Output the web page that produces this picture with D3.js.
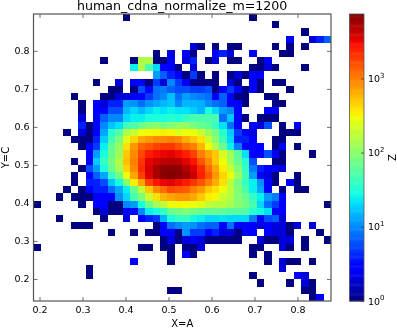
<!DOCTYPE html>
<html>
<head>
<meta charset="utf-8">
<script src="https://cdn.jsdelivr.net/npm/d3@7"></script>
<style>
html, body { margin: 0; background: #fff; }
svg { display: block; filter: blur(0.3px); }
text { font-family: "DejaVu Sans", sans-serif; fill: #000; }
</style>
</head>
<body>
<div id="chart"></div>
<script>
const width = 397, height = 328;

// data range of the histogram
const xExtent = [0.186, 0.878];
const yExtent = [0.142, 0.897];
const binCount = 40;
const zMax = 7380;

const xTicks = [0.2, 0.3, 0.4, 0.5, 0.6, 0.7, 0.8];
const yTicks = [0.2, 0.3, 0.4, 0.5, 0.6, 0.7, 0.8];
const zTicks = [1, 10, 100, 1000];

const title = "human_cdna_normalize_m=1200";

// counts per row from top to bottom, as column index : count
const zRows = [
  {12:1, 29:1},
  {32:1},
  {36:1},
  {34:3, 37:2, 38:4, 39:7},
  {21:2, 22:1, 24:1, 26:1, 27:1, 32:1, 34:1, 36:1},
  {16:1, 18:2, 20:3, 21:1, 24:3, 25:4, 26:2, 29:3, 33:1, 34:1},
  {9:1, 13:1, 14:150, 15:150, 16:1, 17:1, 18:3, 20:2, 21:4, 23:1, 24:2, 26:1, 27:1, 30:1, 31:3},
  {13:25, 14:150, 15:50, 16:20, 17:3, 18:3, 19:1, 21:2, 29:1, 30:1, 31:2, 32:1, 36:1},
  {16:12, 17:7, 18:4, 19:3, 20:1, 21:5, 22:1, 24:1, 26:1, 27:2, 28:1, 29:3, 30:3},
  {8:1, 11:2, 13:3, 14:3, 15:1, 16:5, 17:2, 18:10, 19:5, 20:3, 21:1, 22:1, 23:1, 24:1, 26:2, 27:1, 29:3, 30:1, 32:1, 33:1},
  {10:1, 11:1, 13:1, 14:6, 15:3, 16:8, 17:9, 18:7, 19:6, 20:6, 21:5, 22:5, 23:6, 24:1, 25:3, 26:5, 27:3, 28:1, 29:3, 30:1, 34:1},
  {5:1, 9:1, 10:1, 11:2, 12:2, 13:3, 14:3, 15:5, 16:8, 17:10, 18:16, 19:8, 20:12, 21:10, 22:9, 23:8, 24:3, 25:7, 26:3, 27:1, 28:1, 31:1, 32:1},
  {6:1, 8:3, 9:2, 10:4, 11:4, 12:12, 13:11, 14:8, 15:11, 16:13, 17:15, 18:17, 19:10, 20:15, 21:15, 22:14, 23:10, 24:8, 25:7, 26:3, 27:3, 28:1, 32:1, 33:1},
  {6:1, 8:3, 9:3, 10:6, 11:6, 12:15, 13:20, 14:15, 15:20, 16:25, 17:22, 18:25, 19:22, 20:22, 21:18, 22:15, 23:30, 24:20, 25:12, 26:10, 27:3, 31:3, 32:3},
  {6:2, 8:3, 9:7, 10:10, 11:10, 12:20, 13:25, 14:25, 15:30, 16:30, 17:30, 18:35, 19:30, 20:40, 21:50, 22:50, 23:50, 24:50, 25:8, 26:17, 27:3, 28:1, 30:1, 31:1, 32:1},
  {6:4, 7:1, 8:3, 9:10, 10:17, 11:22, 12:45, 13:50, 14:70, 15:90, 16:100, 17:80, 18:90, 19:110, 20:110, 21:80, 22:70, 23:60, 24:40, 25:22, 26:8, 27:3, 29:3, 30:2, 31:6, 33:1, 35:3},
  {4:1, 6:2, 7:1, 8:3, 9:13, 10:35, 11:55, 12:150, 13:200, 14:300, 15:320, 16:330, 17:350, 18:330, 19:250, 20:300, 21:300, 22:200, 23:120, 24:80, 25:35, 26:18, 27:5, 28:3, 29:2, 33:1, 34:1, 35:1},
  {5:1, 6:1, 7:1, 8:4, 9:18, 10:45, 11:85, 12:250, 13:450, 14:700, 15:800, 16:900, 17:900, 18:1000, 19:900, 20:650, 21:500, 22:400, 23:200, 24:100, 25:45, 26:20, 27:4, 28:4, 29:3, 32:1, 33:1},
  {6:1, 7:3, 8:5, 9:25, 10:65, 11:110, 12:400, 13:800, 14:1300, 15:1500, 16:1800, 17:2000, 18:2000, 19:1600, 20:1200, 21:1000, 22:600, 23:300, 24:150, 25:70, 26:25, 27:9, 28:3, 29:3, 30:3, 32:1, 33:3, 35:1},
  {7:3, 8:12, 9:30, 10:70, 11:120, 12:500, 13:900, 14:1700, 15:2600, 16:3000, 17:3200, 18:3400, 19:3000, 20:2500, 21:1800, 22:1000, 23:700, 24:500, 25:220, 26:130, 27:60, 28:22, 29:3, 30:3, 31:6, 32:3, 33:1, 37:1},
  {5:1, 7:3, 8:18, 9:40, 10:80, 11:150, 12:550, 13:1000, 14:2000, 15:3300, 16:4000, 17:4600, 18:4800, 19:4500, 20:3400, 21:2800, 22:1500, 23:900, 24:500, 25:300, 26:130, 27:70, 28:35, 29:6, 32:1, 33:1},
  {6:1, 7:6, 8:12, 9:30, 10:70, 11:130, 12:450, 13:900, 14:2200, 15:3800, 16:5500, 17:6500, 18:6800, 19:6500, 20:5000, 21:3500, 22:2300, 23:1200, 24:700, 25:350, 26:200, 27:90, 28:40, 29:9, 30:4, 31:3, 32:3, 33:2},
  {5:1, 7:3, 8:7, 9:13, 10:40, 11:80, 12:300, 13:700, 14:1800, 15:3500, 16:5500, 17:6800, 18:7300, 19:6800, 20:5800, 21:4200, 22:2500, 23:1500, 24:800, 25:450, 26:300, 27:120, 28:45, 29:12, 30:3, 31:2, 32:1, 35:1},
  {5:1, 7:4, 8:4, 9:6, 10:17, 11:28, 12:100, 13:350, 14:700, 15:1800, 16:2700, 17:3200, 18:3500, 19:3000, 20:2600, 21:2000, 22:1500, 23:1000, 24:650, 25:400, 26:170, 27:80, 28:40, 29:25, 30:11, 31:3, 32:1, 34:3, 35:1},
  {4:1, 6:1, 7:3, 8:4, 9:4, 10:8, 11:13, 12:25, 13:70, 14:180, 15:500, 16:900, 17:1200, 18:1700, 19:1500, 20:1400, 21:1000, 22:800, 23:500, 24:400, 25:300, 26:170, 27:90, 28:50, 29:25, 30:13, 31:3, 33:1, 35:1, 36:1},
  {3:1, 5:1, 6:1, 7:1, 8:3, 9:3, 10:3, 11:11, 12:20, 13:50, 14:90, 15:200, 16:400, 17:600, 18:700, 19:800, 20:800, 21:700, 22:500, 23:350, 24:320, 25:200, 26:160, 27:90, 28:70, 29:40, 30:25, 31:12, 32:9, 33:3},
  {0:1, 6:1, 8:3, 9:3, 10:1, 11:1, 12:10, 13:12, 14:30, 15:70, 16:130, 17:170, 18:280, 19:320, 20:300, 21:280, 22:250, 23:180, 24:160, 25:160, 26:130, 27:100, 28:80, 29:50, 30:20, 31:8, 32:5, 33:3, 39:1},
  {8:1, 9:2, 10:1, 11:1, 12:3, 13:3, 14:10, 15:25, 16:30, 17:40, 18:70, 19:80, 20:90, 21:80, 22:70, 23:65, 24:70, 25:65, 26:60, 27:60, 28:55, 29:35, 30:28, 31:22, 32:3, 33:3},
  {3:1, 9:1, 12:2, 14:3, 15:4, 16:5, 17:15, 18:30, 19:40, 20:40, 21:27, 22:25, 23:20, 24:20, 25:22, 26:20, 27:20, 28:20, 29:9, 30:3, 31:6, 32:7, 33:2},
  {5:1, 6:1, 7:1, 16:1, 17:3, 18:8, 19:10, 20:12, 21:11, 22:8, 23:7, 24:7, 25:3, 26:8, 27:3, 28:3, 29:3, 30:2, 31:3, 32:2, 33:2, 34:1, 35:2, 37:2},
  {10:1, 13:1, 15:1, 16:1, 17:3, 18:3, 19:1, 20:11, 21:5, 22:5, 23:3, 24:4, 25:2, 26:2, 27:1, 28:3, 29:3, 31:3, 32:2, 33:2, 34:1, 38:1},
  {17:1, 18:2, 19:1, 20:2, 21:3, 22:2, 23:1, 24:1, 25:1, 26:1, 27:1, 30:2, 31:1, 32:1, 33:2, 34:2, 36:1, 39:1},
  {0:1, 14:1, 15:1, 17:1, 18:1, 20:1, 21:1, 22:2, 29:1, 30:1, 33:2, 34:1, 36:1},
  {18:1, 20:3, 21:1, 29:1, 31:1},
  {13:3, 18:1, 31:1, 33:2, 34:1, 35:1, 37:1},
  {7:1, 33:2},
  {7:1, 29:1, 35:3, 36:2},
  {30:1, 34:1, 36:2, 37:1},
  {18:1, 19:1, 36:1, 37:1},
  {37:1, 38:3}
];

const svg = d3.select("#chart").append("svg")
    .attr("width", width)
    .attr("height", height);

const plot = { left: 33.5, right: 331, top: 14, bottom: 301 };
const bar = { left: 349.5, right: 364 };

const x = d3.scaleLinear().domain(xExtent).range([plot.left, plot.right]);
const y = d3.scaleLinear().domain(yExtent).range([plot.bottom, plot.top]);
const zBar = d3.scaleLog().domain([1, zMax]).range([plot.bottom, plot.top]);
const zNorm = d3.scaleLog().domain([1, zMax]).range([0, 1]);

// jet colormap
const red = d3.scaleLinear().domain([0, 0.35, 0.66, 0.89, 1]).range([0, 0, 255, 255, 128]);
const green = d3.scaleLinear().domain([0, 0.125, 0.375, 0.64, 0.91, 1]).range([0, 0, 255, 255, 0, 0]);
const blue = d3.scaleLinear().domain([0, 0.11, 0.34, 0.65, 1]).range([128, 255, 255, 0, 0]);
const jet = t => d3.rgb(red(t), green(t), blue(t)).toString();

const xStep = (xExtent[1] - xExtent[0]) / binCount;
const yStep = (yExtent[1] - yExtent[0]) / binCount;

const cells = [];
zRows.forEach((row, j) => {
  Object.keys(row).forEach(i => {
    cells.push({ col: +i, row: j, z: row[i] });
  });
});

svg.append("g").selectAll("rect")
    .data(cells)
    .enter().append("rect")
    .attr("x", d => x(xExtent[0] + d.col * xStep))
    .attr("y", d => y(yExtent[1] - d.row * yStep))
    .attr("width", d => x(xExtent[0] + (d.col + 1) * xStep) - x(xExtent[0] + d.col * xStep))
    .attr("height", d => y(yExtent[1] - (d.row + 1) * yStep) - y(yExtent[1] - d.row * yStep))
    .attr("fill", d => jet(zNorm(d.z)))
    .attr("shape-rendering", "crispEdges");

// axes, ticks point into the plot on all four sides
function styleAxis(g) {
  g.select(".domain").remove();
  g.selectAll(".tick line").attr("stroke", "#333").attr("stroke-width", 0.7);
  g.selectAll("text").style("font-size", "9.5px").style("font-family", "'DejaVu Sans'").attr("fill", "#000");
}

svg.append("g")
    .attr("transform", `translate(0,${plot.bottom})`)
    .call(d3.axisBottom(x).tickValues(xTicks).tickFormat(d3.format(".1f")).tickSize(-4).tickPadding(5))
    .call(styleAxis);
svg.append("g")
    .attr("transform", `translate(0,${plot.top})`)
    .call(d3.axisTop(x).tickValues(xTicks).tickFormat("").tickSize(-4))
    .call(styleAxis);
svg.append("g")
    .attr("transform", `translate(${plot.left},0)`)
    .call(d3.axisLeft(y).tickValues(yTicks).tickFormat(d3.format(".1f")).tickSize(-4).tickPadding(4))
    .call(styleAxis);
svg.append("g")
    .attr("transform", `translate(${plot.right},0)`)
    .call(d3.axisRight(y).tickValues(yTicks).tickFormat("").tickSize(-4))
    .call(styleAxis);

svg.append("rect")
    .attr("x", plot.left).attr("y", plot.top)
    .attr("width", plot.right - plot.left).attr("height", plot.bottom - plot.top)
    .attr("fill", "none").attr("stroke", "#555").attr("stroke-width", 1.2);

svg.append("text")
    .attr("x", (plot.left + plot.right) / 2).attr("y", 10)
    .attr("text-anchor", "middle").style("font-size", "12.6px")
    .text(title);
svg.append("text")
    .attr("x", (plot.left + plot.right) / 2).attr("y", 326.5)
    .attr("text-anchor", "middle").style("font-size", "10px")
    .text("X=A");
svg.append("text")
    .attr("transform", `translate(8.5,${(plot.top + plot.bottom) / 2}) rotate(-90)`)
    .attr("text-anchor", "middle").style("font-size", "10px")
    .text("Y=C");

// colorbar
const barSteps = d3.range(0, 256);
svg.append("g").selectAll("rect")
    .data(barSteps)
    .enter().append("rect")
    .attr("x", bar.left)
    .attr("width", bar.right - bar.left)
    .attr("y", d => plot.bottom - (d + 1) / 256 * (plot.bottom - plot.top))
    .attr("height", (plot.bottom - plot.top) / 256 + 0.5)
    .attr("fill", d => jet((d + 0.5) / 256));

const zAxis = svg.append("g")
    .attr("transform", `translate(${bar.right},0)`)
    .call(d3.axisRight(zBar).tickValues(zTicks).tickFormat("").tickSize(-3))
    .call(styleAxis);
const zLabel = zAxis.selectAll(".tick text")
    .text("10")
    .attr("x", 4)
    .style("font-size", "9.5px");
zLabel.append("tspan")
    .attr("dy", "-0.6em")
    .style("font-size", "7px")
    .text(d => Math.round(Math.log10(d)));

svg.append("rect")
    .attr("x", bar.left).attr("y", plot.top)
    .attr("width", bar.right - bar.left).attr("height", plot.bottom - plot.top)
    .attr("fill", "none").attr("stroke", "#555").attr("stroke-width", 0.8);

svg.append("text")
    .attr("transform", `translate(395.5,${(plot.top + plot.bottom) / 2}) rotate(-90)`)
    .attr("text-anchor", "middle").style("font-size", "10px")
    .text("Z");
</script>
</body>
</html>
